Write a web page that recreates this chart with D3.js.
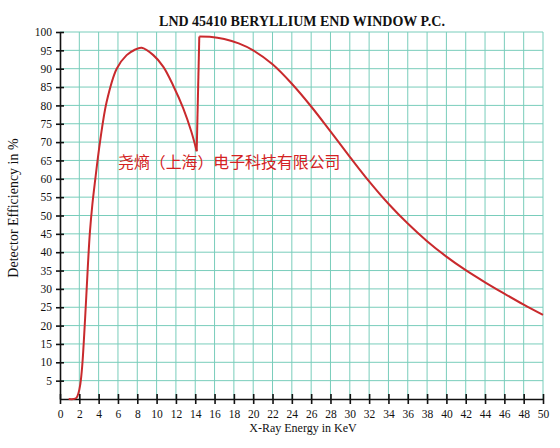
<!DOCTYPE html>
<html>
<head>
<meta charset="utf-8">
<script src="https://cdn.jsdelivr.net/npm/d3@7"></script>
<style>
  body { margin: 0; background: #fff; }
  svg { width: 560px; height: 448px; display: block; }
</style>
</head>
<body>
<svg></svg>
<script>
// кривая до K-скачка (энергия в КэВ, эффективность в %)
const energyLow = [0.9, 1.4, 1.7, 1.9, 2.1, 2.3, 2.6, 2.9, 3.1, 3.35, 3.62, 4.14, 4.83, 5.87, 6.9, 7.7, 8.45, 9.66, 10.7, 11.7, 12.76, 13.6, 14.15];
const effLow    = [0,   0,   0.3, 1.5, 4,   9,   22,  37,  45.6, 53, 59.2, 70,  81,   90,   93.7, 95.1, 95.7, 93.7, 90.5, 85.5, 79.2, 72.8, 67.5];

// кривая после скачка
const energyHigh = [14.42, 15.5, 17, 18.5, 20, 22, 24, 26, 28, 30, 32, 34, 36, 38, 40, 42, 44, 46, 48, 50];
const effHigh    = [98.8, 98.7, 98.1, 96.9, 95, 91.2, 85.9, 79.7, 72.9, 66, 59.3, 53.2, 47.8, 43, 38.8, 35.1, 31.8, 28.7, 25.7, 22.9];

// подписи осей
const xTicks = d3.range(0, 51, 2);
const yTicks = d3.range(0, 101, 5);

const titleText = "LND 45410 BERYLLIUM END WINDOW P.C.";
const xLabel = "X-Ray Energy in KeV";
const yLabel = "Detector Efficiency in %";
const stampText = "尧熵（上海）电子科技有限公司";

function drawChart() {
    const svg = d3.select("svg");
    svg.selectAll('*').remove();

    const attr_area = {
        left: 60,
        right: 543,
        top: 32,
        bottom: 399
    };

    const scaleX = d3.scaleLinear()
                    .domain([0, 50])
                    .range([attr_area.left, attr_area.right]);

    const scaleY = d3.scaleLinear()
                    .domain([0, 100])
                    .range([attr_area.bottom, attr_area.top]);

    // сетка
    const grid = svg.append("g");
    grid.selectAll(".vgrid")
        .data(xTicks.slice(1))
        .enter()
        .append("line")
        .attr("x1", d => scaleX(d))
        .attr("x2", d => scaleX(d))
        .attr("y1", attr_area.top)
        .attr("y2", attr_area.bottom)
        .style("stroke", "#79cdbb")
        .style("stroke-width", 1);

    grid.selectAll(".hgrid")
        .data(yTicks.slice(1))
        .enter()
        .append("line")
        .attr("x1", attr_area.left)
        .attr("x2", attr_area.right)
        .attr("y1", d => scaleY(d))
        .attr("y2", d => scaleY(d))
        .style("stroke", "#79cdbb")
        .style("stroke-width", 1);

    // оси (засечки по обе стороны линии)
    const axisX = d3.axisBottom(scaleX)
                    .tickValues(xTicks)
                    .tickSizeInner(5)
                    .tickSizeOuter(0)
                    .tickPadding(6);
    const gX = svg.append("g")
        .attr("transform", `translate(0, ${attr_area.bottom})`)
        .call(axisX);
    gX.selectAll(".tick line").attr("y1", -5);

    const axisY = d3.axisLeft(scaleY)
                    .tickValues(yTicks.slice(1))
                    .tickSizeInner(4)
                    .tickSizeOuter(0)
                    .tickPadding(4);
    const gY = svg.append("g")
        .attr("transform", `translate(${attr_area.left}, 0)`)
        .call(axisY);
    gY.selectAll(".tick line").attr("x1", 4);

    svg.selectAll(".domain, .tick line")
        .style("stroke", "#111")
        .style("stroke-width", 1.6);
    svg.selectAll(".tick text")
        .style("font-family", "'Liberation Serif', serif")
        .style("font-size", "11.5px")
        .style("fill", "#111");

    // кривая эффективности
    const curve = d3.line()
        .x(d => scaleX(d[0]))
        .y(d => scaleY(d[1]))
        .curve(d3.curveCatmullRom.alpha(0.5));

    const straight = d3.line()
        .x(d => scaleX(d[0]))
        .y(d => scaleY(d[1]));

    const low = energyLow.map((e, i) => [e, effLow[i]]);
    const high = energyHigh.map((e, i) => [e, effHigh[i]]);

    const drawLine = (pts, gen) => {
        svg.append("path")
           .datum(pts)
           .attr("d", gen)
           .style("fill", "none")
           .style("stroke", "#c92a2d")
           .style("stroke-width", 2)
           .style("stroke-linejoin", "round");
    };
    drawLine(low, curve);
    drawLine([low[low.length - 1], high[0]], straight);
    drawLine(high, curve);

    // подписи
    svg.append("text")
        .attr("x", 302)
        .attr("y", 26)
        .attr("text-anchor", "middle")
        .style("font-family", "'Liberation Serif', serif")
        .style("font-size", "14px")
        .style("font-weight", "bold")
        .style("fill", "#111")
        .text(titleText);

    svg.append("text")
        .attr("x", 303)
        .attr("y", 432)
        .attr("text-anchor", "middle")
        .style("font-family", "'Liberation Serif', serif")
        .style("font-size", "12px")
        .style("fill", "#111")
        .text(xLabel);

    svg.append("text")
        .attr("transform", "translate(18, 208) rotate(-90)")
        .attr("text-anchor", "middle")
        .style("font-family", "'Liberation Serif', serif")
        .style("font-size", "14px")
        .style("fill", "#111")
        .text(yLabel);

    svg.append("text")
        .attr("x", 118)
        .attr("y", 168)
        .style("font-family", "'Noto Sans CJK SC', sans-serif")
        .style("font-size", "15.9px")
        .style("fill", "#d32222")
        .text(stampText);
}

drawChart();
</script>
</body>
</html>
